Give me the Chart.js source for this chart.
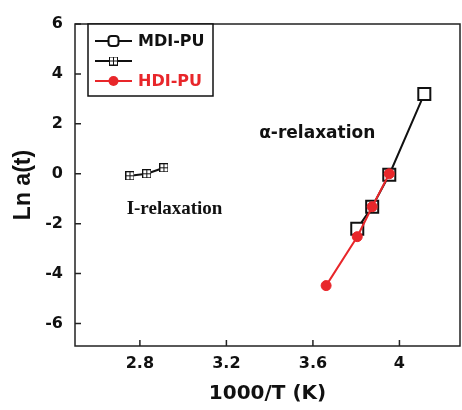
<!DOCTYPE html>
<html>
<head>
<meta charset="utf-8">
<script src="https://cdn.jsdelivr.net/npm/chart.js@4"></script>
<style>
  html, body { margin: 0; padding: 0; background: #fff; }
  #wrap { width: 462px; height: 410px; }
</style>
</head>
<body>
<div id="wrap"><canvas id="chart" width="462" height="410"></canvas></div>
<script>
// data
const mdiX = [3.805, 3.874, 3.953, 4.115];
const mdiY = [-2.2, -1.32, -0.04, 3.2];
const iRelaxX = [2.754, 2.832, 2.911];
const iRelaxY = [-0.08, 0.0, 0.24];
const hdiX = [3.661, 3.805, 3.874, 3.953];
const hdiY = [-4.48, -2.52, -1.32, 0.0];

const xTicks = [2.8, 3.2, 3.6, 4.0];
const yTicks = [-6, -4, -2, 0, 2, 4, 6];

const seriesNames = ['MDI-PU', '', 'HDI-PU'];
const notes = [
    { text: 'α-relaxation', x: 3.62, y: 1.6, font: 'bold 17px "DejaVu Sans"' },
    { text: 'I-relaxation', x: 2.96, y: -1.4, font: 'bold 19px "Liberation Serif"' }
];

const toPoints = (xs, ys) => xs.map((x, i) => ({ x: x, y: ys[i] }));

// small square with a cross, used for the I-relaxation points
function crossSquare(size) {
    const c = document.createElement('canvas');
    c.width = size; c.height = size;
    const g = c.getContext('2d');
    g.fillStyle = '#fff';
    g.fillRect(0.5, 0.5, size - 1, size - 1);
    g.strokeStyle = '#111';
    g.lineWidth = 1;
    g.strokeRect(0.5, 0.5, size - 1, size - 1);
    g.beginPath();
    g.moveTo(size / 2, 0.5); g.lineTo(size / 2, size - 0.5);
    g.moveTo(0.5, size / 2); g.lineTo(size - 0.5, size / 2);
    g.stroke();
    return c;
}
const crossImg = crossSquare(9);

// inward ticks, frame, text notes and boxed legend
const frame = {
    id: 'frame',
    afterDatasetsDraw(chart) {
        const ctx = chart.ctx;
        const a = chart.chartArea;
        const xs = chart.scales.x, ys = chart.scales.y;
        ctx.save();
        ctx.strokeStyle = '#222';
        ctx.lineWidth = 1.5;
        ctx.strokeRect(a.left, a.top, a.right - a.left, a.bottom - a.top);
        ctx.beginPath();
        xTicks.forEach(v => {
            const px = xs.getPixelForValue(v);
            ctx.moveTo(px, a.bottom); ctx.lineTo(px, a.bottom - 6);
        });
        yTicks.forEach(v => {
            const py = ys.getPixelForValue(v);
            ctx.moveTo(a.left, py); ctx.lineTo(a.left + 6, py);
        });
        ctx.stroke();

        ctx.fillStyle = '#111';
        ctx.textAlign = 'center';
        ctx.textBaseline = 'middle';
        notes.forEach(n => {
            ctx.font = n.font;
            ctx.fillText(n.text, xs.getPixelForValue(n.x), ys.getPixelForValue(n.y));
        });

        // legend box
        const bx = a.left + 13, by = a.top, bw = 125, bh = 72;
        ctx.fillStyle = '#fff';
        ctx.fillRect(bx, by, bw, bh);
        ctx.lineWidth = 1.5;
        ctx.strokeStyle = '#111';
        ctx.strokeRect(bx, by, bw, bh);
        chart.data.datasets.forEach((ds, i) => {
            const y = by + 17 + i * 20;
            const x0 = bx + 7, x1 = bx + 44, xm = (x0 + x1) / 2;
            ctx.strokeStyle = ds.borderColor;
            ctx.lineWidth = 2;
            ctx.beginPath(); ctx.moveTo(x0, y); ctx.lineTo(x1, y); ctx.stroke();
            ctx.strokeStyle = ds.pointBorderColor;
            ctx.lineWidth = ds.pointBorderWidth;
            if (ds.pointStyle === 'circle') {
                ctx.beginPath(); ctx.arc(xm, y, ds.legendRadius, 0, Math.PI * 2);
                ctx.fillStyle = ds.pointBackgroundColor; ctx.fill();
            } else if (ds.pointStyle === 'rect') {
                const s = 10;
                ctx.fillStyle = '#fff';
                ctx.beginPath();
                ctx.roundRect(xm - s / 2, y - s / 2, s, s, 3);
                ctx.fill(); ctx.stroke();
            } else {
                ctx.drawImage(ds.pointStyle, xm - ds.pointStyle.width / 2, y - ds.pointStyle.height / 2);
            }
            if (seriesNames[i]) {
                ctx.font = 'bold 16px "DejaVu Sans"';
                ctx.textAlign = 'left';
                ctx.fillStyle = ds.legendText;
                ctx.fillText(seriesNames[i], bx + 50, y + 1);
            }
        });
        ctx.restore();
    }
};

new Chart(document.getElementById('chart'), {
    type: 'scatter',
    data: {
        datasets: [
            {
                data: toPoints(mdiX, mdiY),
                order: 1,
                showLine: true,
                borderColor: '#111',
                borderWidth: 2,
                pointStyle: 'rect',
                pointRadius: 8.5,
                pointBackgroundColor: '#fff',
                pointBorderColor: '#111',
                pointBorderWidth: 2,
                legendRadius: 5,
                legendText: '#111'
            },
            {
                data: toPoints(iRelaxX, iRelaxY),
                order: 2,
                showLine: true,
                borderColor: '#111',
                borderWidth: 2,
                pointStyle: crossImg,
                pointRadius: 5,
                pointBorderWidth: 1,
                legendRadius: 5,
                legendText: '#111'
            },
            {
                data: toPoints(hdiX, hdiY),
                order: 0,
                showLine: true,
                borderColor: '#e8262a',
                borderWidth: 2,
                pointStyle: 'circle',
                pointRadius: 5,
                pointBackgroundColor: '#e8262a',
                pointBorderColor: '#e8262a',
                pointBorderWidth: 1,
                legendRadius: 5,
                legendText: '#e8262a'
            }
        ]
    },
    options: {
        responsive: false,
        animation: false,
        layout: { autoPadding: false, padding: { top: 24, right: 2, left: 0, bottom: 0 } },
        plugins: { legend: { display: false }, tooltip: { enabled: false } },
        scales: {
            x: {
                type: 'linear',
                min: 2.5,
                max: 4.28,
                afterBuildTicks: s => { s.ticks = xTicks.map(v => ({ value: v })); },
                afterFit: s => { s.height = 64; s.paddingLeft = 0; s.paddingRight = 0; },
                grid: { display: false, drawTicks: false },
                border: { display: false },
                ticks: {
                    padding: 8,
                    color: '#111',
                    font: { family: 'DejaVu Sans', size: 16, weight: 'bold' },
                    callback: v => String(Number(v.toFixed(1)))
                },
                title: {
                    display: true,
                    text: '1000/T (K)',
                    color: '#111',
                    font: { family: 'DejaVu Sans', size: 20, weight: 'bold' },
                    padding: { top: 4, bottom: 4 }
                }
            },
            y: {
                type: 'linear',
                min: -6.9,
                max: 6,
                afterBuildTicks: s => { s.ticks = yTicks.map(v => ({ value: v })); },
                afterFit: s => { s.width = 75; },
                grid: { display: false, drawTicks: false },
                border: { display: false },
                ticks: {
                    padding: 12,
                    color: '#111',
                    font: { family: 'DejaVu Sans', size: 16, weight: 'bold' }
                },
                title: {
                    display: true,
                    text: 'Ln a(t)',
                    color: '#111',
                    font: { family: 'Liberation Sans', size: 23, weight: 'bold' },
                    padding: { top: 10, bottom: 0 }
                }
            }
        }
    },
    plugins: [frame]
});
</script>
</body>
</html>
